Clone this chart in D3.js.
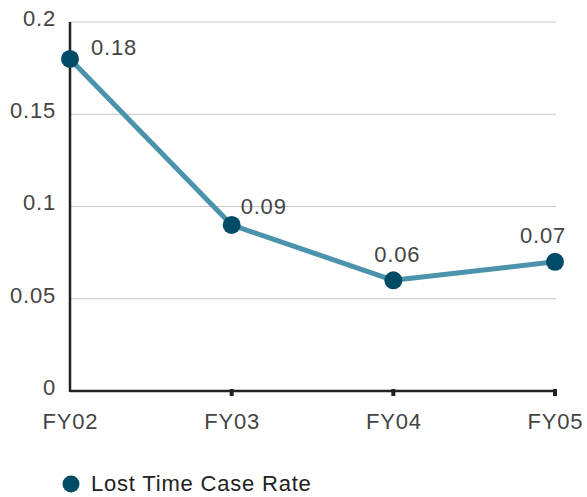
<!DOCTYPE html>
<html>
<head>
<meta charset="utf-8">
<script src="https://cdn.jsdelivr.net/npm/d3@7/dist/d3.min.js"></script>
<style>
  html, body { margin: 0; padding: 0; background: #fff; }
  svg text { font-family: "Liberation Sans", Arial, sans-serif; letter-spacing: 0.8px; }
</style>
</head>
<body>
<svg id="chart" width="587" height="497"></svg>
<script>
// Lost time case rate by fiscal year
const years = ["FY02", "FY03", "FY04", "FY05"];
const rates = [0.18, 0.09, 0.06, 0.07];
const rateLabels = ["0.18", "0.09", "0.06", "0.07"];
const yTicks = [0, 0.05, 0.1, 0.15, 0.2];
const yTickLabels = ["0", "0.05", "0.1", "0.15", "0.2"];
const seriesName = "Lost Time Case Rate";

const svg = d3.select("#chart");
const margin = { left: 70, right: 32, top: 22, bottom: 106 };
const W = 587, H = 497;
const FS = 22;

const x = d3.scalePoint().domain(years).range([margin.left, W - margin.right]);
const y = d3.scaleLinear().domain([0, 0.2]).range([H - margin.bottom, margin.top]);

// horizontal gridlines
svg.append("g")
  .selectAll("line")
  .data(yTicks.filter(d => d > 0))
  .join("line")
  .attr("x1", margin.left)
  .attr("x2", W - margin.right + 1)
  .attr("y1", d => y(d))
  .attr("y2", d => y(d))
  .attr("stroke", "#c8c8c8")
  .attr("stroke-width", 1);

// y axis labels
const yAxis = d3.axisLeft(y).tickValues(yTicks)
  .tickFormat((d, i) => yTickLabels[i]).tickSize(0).tickPadding(14);
const gy = svg.append("g").attr("transform", `translate(${margin.left},0)`).call(yAxis);
gy.select(".domain").remove();
gy.selectAll("text")
  .attr("font-size", FS)
  .attr("fill", "#444")
  .attr("dy", "0.15em");

// vertical axis line
svg.append("line")
  .attr("x1", margin.left).attr("x2", margin.left)
  .attr("y1", y(0.2)).attr("y2", y(0) + 1)
  .attr("stroke", "#222").attr("stroke-width", 2.5);

// x axis
const xAxis = d3.axisBottom(x).tickSize(0).tickPadding(22);
const gx = svg.append("g").attr("transform", `translate(0,${y(0)})`).call(xAxis);
gx.select(".domain").remove();
gx.selectAll("text").attr("font-size", FS).attr("fill", "#444");

svg.append("line")
  .attr("x1", margin.left).attr("x2", x(years[years.length - 1]) + 2)
  .attr("y1", y(0)).attr("y2", y(0))
  .attr("stroke", "#222").attr("stroke-width", 2.5);

// square tick marks
svg.append("g")
  .selectAll("rect")
  .data(years.slice(1))
  .join("rect")
  .attr("x", d => x(d) - 2)
  .attr("y", y(0) - 2)
  .attr("width", 4)
  .attr("height", 7)
  .attr("fill", "#222");

// series line
const pts = years.map((yr, i) => ({ yr, v: rates[i], label: rateLabels[i] }));
const line = d3.line().x(d => x(d.yr)).y(d => y(d.v));
svg.append("path")
  .datum(pts)
  .attr("d", line)
  .attr("fill", "none")
  .attr("stroke", "#4b93ac")
  .attr("stroke-width", 5)
  .attr("stroke-linejoin", "round");

svg.append("g")
  .selectAll("circle")
  .data(pts)
  .join("circle")
  .attr("cx", d => x(d.yr))
  .attr("cy", d => y(d.v))
  .attr("r", 9)
  .attr("fill", "#004b66");

// value labels, offsets measured from the point centre to the label centre
const labelPos = [
  { dx: 21, dy: -12, anchor: "start" },
  { dx: 9, dy: -19, anchor: "start" },
  { dx: 4, dy: -26, anchor: "middle" },
  { dx: -12, dy: -27, anchor: "middle" }
];
svg.append("g")
  .selectAll("text")
  .data(pts)
  .join("text")
  .attr("x", (d, i) => x(d.yr) + labelPos[i].dx)
  .attr("y", (d, i) => y(d.v) + labelPos[i].dy)
  .attr("dy", "0.35em")
  .attr("text-anchor", (d, i) => labelPos[i].anchor)
  .attr("font-size", FS)
  .attr("fill", "#444")
  .text(d => d.label);

// legend
const lg = svg.append("g").attr("transform", "translate(71,484)");
lg.append("circle").attr("r", 8.5).attr("fill", "#004b66");
lg.append("text")
  .attr("x", 20).attr("dy", "0.33em")
  .attr("font-size", FS).attr("fill", "#222")
  .text(seriesName);
</script>
</body>
</html>
